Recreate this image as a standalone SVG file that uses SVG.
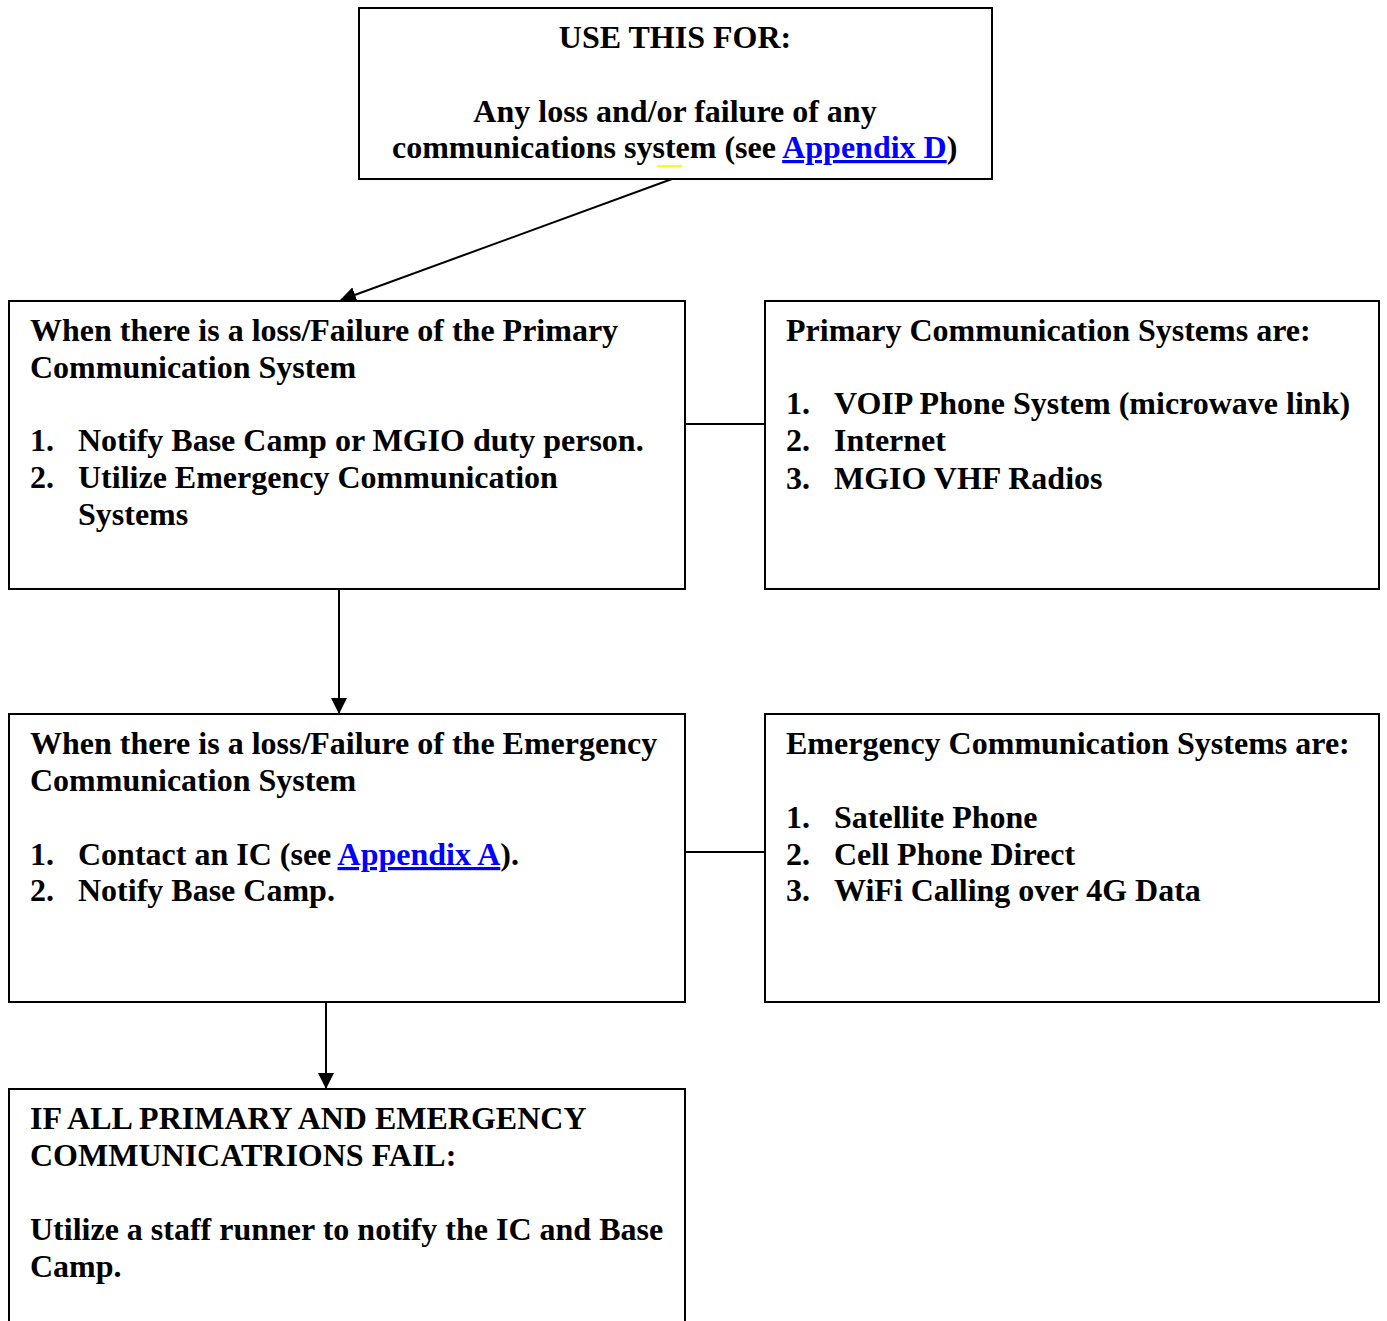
<svg xmlns="http://www.w3.org/2000/svg" width="1387" height="1321" viewBox="0 0 1387 1321">
<style>
.box{fill:#fff;stroke:#000;stroke-width:2}
.t{font-family:"Liberation Serif","Times New Roman",serif;font-weight:bold;font-size:32px;fill:#000}
.c{text-anchor:middle}
.lnk{fill:#0000ff;text-decoration:underline}
.con{stroke:#000;stroke-width:2;fill:none}
</style>
<defs>
<marker id="ah2" markerWidth="16" markerHeight="16" refX="15" refY="8" orient="auto" markerUnits="userSpaceOnUse" viewBox="0 0 16 16">
<path d="M0,0 L16,8 L0,16 z" fill="#000"/>
</marker>
</defs>
<rect width="1387" height="1321" fill="#fff"/>

<g id="connectors">
<line class="con" x1="672" y1="179" x2="341" y2="300" marker-end="url(#ah2)"/>
<line class="con" x1="339" y1="589" x2="339" y2="713" marker-end="url(#ah2)"/>
<line class="con" x1="326" y1="1002" x2="326" y2="1088" marker-end="url(#ah2)"/>
<line class="con" x1="686" y1="424" x2="765" y2="424"/>
<line class="con" x1="686" y1="852" x2="765" y2="852"/>
</g>

<g id="n-top">
<rect class="box" x="359" y="8" width="633" height="171"/>
<text class="t c" x="675" y="48">USE THIS FOR:</text>
<text class="t c" x="675" y="122">Any loss and/or failure of any</text>
<text class="t" x="392" y="158">communications system (see <tspan class="lnk">Appendix D</tspan>)</text>
<line x1="657" y1="166" x2="682" y2="166" stroke="#ffff00" stroke-width="2"/>
</g>

<g id="n-primary-fail">
<rect class="box" x="9" y="301" width="676" height="288"/>
<text class="t" x="30" y="341">When there is a loss/Failure of the Primary</text>
<text class="t" x="30" y="378">Communication System</text>
<text class="t" x="30" y="451">1.</text><text class="t" x="78" y="451">Notify Base Camp or MGIO duty person.</text>
<text class="t" x="30" y="488">2.</text><text class="t" x="78" y="488">Utilize Emergency Communication</text>
<text class="t" x="78" y="525">Systems</text>
</g>

<g id="n-primary-list">
<rect class="box" x="765" y="301" width="614" height="288"/>
<text class="t" x="786" y="341">Primary Communication Systems are:</text>
<text class="t" x="786" y="414">1.</text><text class="t" x="834" y="414">VOIP Phone System (microwave link)</text>
<text class="t" x="786" y="451">2.</text><text class="t" x="834" y="451">Internet</text>
<text class="t" x="786" y="489">3.</text><text class="t" x="834" y="489">MGIO VHF Radios</text>
</g>

<g id="n-emergency-fail">
<rect class="box" x="9" y="714" width="676" height="288"/>
<text class="t" x="30" y="754">When there is a loss/Failure of the Emergency</text>
<text class="t" x="30" y="791">Communication System</text>
<text class="t" x="30" y="865">1.</text><text class="t" x="78" y="865">Contact an IC (see <tspan class="lnk">Appendix A</tspan>).</text>
<text class="t" x="30" y="901">2.</text><text class="t" x="78" y="901">Notify Base Camp.</text>
</g>

<g id="n-emergency-list">
<rect class="box" x="765" y="714" width="614" height="288"/>
<text class="t" x="786" y="754">Emergency Communication Systems are:</text>
<text class="t" x="786" y="828">1.</text><text class="t" x="834" y="828">Satellite Phone</text>
<text class="t" x="786" y="865">2.</text><text class="t" x="834" y="865">Cell Phone Direct</text>
<text class="t" x="786" y="901">3.</text><text class="t" x="834" y="901">WiFi Calling over 4G Data</text>
</g>

<g id="n-all-fail">
<path class="box" d="M9,1330 V1089 H685 V1330"/>
<text class="t" x="30" y="1129">IF ALL PRIMARY AND EMERGENCY</text>
<text class="t" x="30" y="1166">COMMUNICATRIONS FAIL:</text>
<text class="t" x="30" y="1240">Utilize a staff runner to notify the IC and Base</text>
<text class="t" x="30" y="1277">Camp.</text>
</g>
</svg>
